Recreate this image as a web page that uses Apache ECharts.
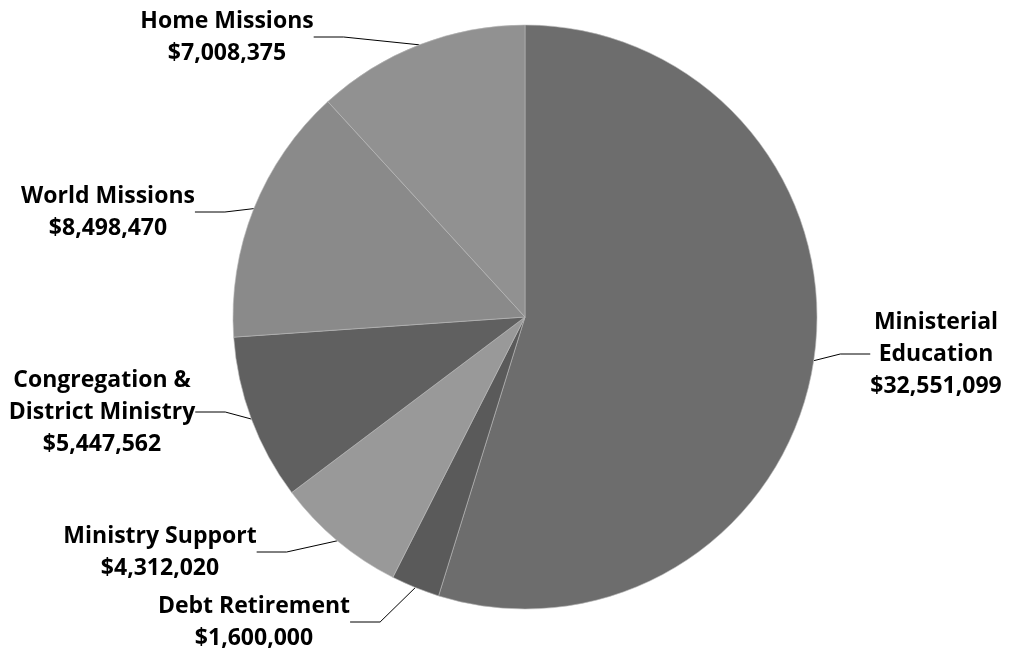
<!DOCTYPE html>
<html>
<head>
<meta charset="utf-8">
<script src="https://cdn.jsdelivr.net/npm/echarts@6/dist/echarts.min.js"></script>
<style>
  html, body { margin: 0; padding: 0; background: #fff; }
  #chart { width: 1013px; height: 659px; }
</style>
</head>
<body>
<div id="chart"></div>
<script>
// Budget allocation by program area
const categories = [
  'Ministerial\nEducation',
  'Debt Retirement',
  'Ministry Support',
  'Congregation &\nDistrict Ministry',
  'World Missions',
  'Home Missions'
];
const amounts = [32551099, 1600000, 4312020, 5447562, 8498470, 7008375];
const sliceColors = ['#6d6d6d', '#5a5a5a', '#999999', '#606060', '#8a8a8a', '#919191'];

// Label anchor points (text block centre) for each slice
const labelSpots = [
  [936, 354],
  [254, 622],
  [160, 552],
  [102, 412],
  [108, 212],
  [227, 37]
];

function money(v) {
  return '$' + v.toLocaleString('en-US');
}

const chart = echarts.init(document.getElementById('chart'), null, { renderer: 'canvas' });

chart.setOption({
  backgroundColor: '#ffffff',
  animation: false,
  series: [{
    type: 'pie',
    center: [525, 317],
    radius: [0, 292],
    startAngle: 90,
    clockwise: true,
    avoidLabelOverlap: false,
    data: categories.map((c, i) => ({
      name: c,
      value: amounts[i],
      itemStyle: { color: sliceColors[i] }
    })),
    itemStyle: { borderColor: '#b8b8b8', borderWidth: 0.6 },
    label: {
      show: true,
      formatter: p => p.name + '\n' + money(p.value),
      fontFamily: 'Open Sans',
      fontWeight: 'bold',
      fontSize: 23,
      lineHeight: 32,
      color: '#000',
      align: 'center'
    },
    labelLine: {
      show: true,
      lineStyle: { color: '#000', width: 1 }
    },
    labelLayout: params => ({
      x: labelSpots[params.dataIndex][0],
      y: labelSpots[params.dataIndex][1],
      align: 'center',
      verticalAlign: 'middle'
    }),
    emphasis: { disabled: true }
  }]
});
</script>
</body>
</html>
